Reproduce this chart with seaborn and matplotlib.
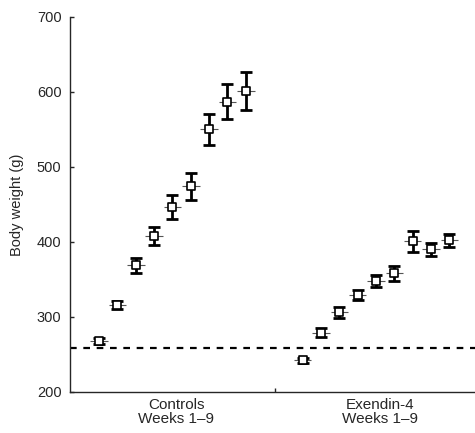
import numpy as np
import pandas as pd
import matplotlib
matplotlib.use("Agg")
import matplotlib.pyplot as plt
import seaborn as sns

weeks = [1, 2, 3, 4, 5, 6, 7, 8, 9]
controls_mean = [268, 316, 369, 408, 446, 474, 550, 587, 601]
controls_err = [4, 5, 10, 12, 16, 18, 21, 23, 25]
exendin_mean = [242, 279, 306, 329, 348, 358, 401, 390, 402]
exendin_err = [3, 6, 7, 7, 8, 10, 14, 9, 9]
group_labels = ["Controls\nWeeks 1\u20139", "Exendin-4\nWeeks 1\u20139"]
baseline = 259

sns.set_theme(style="ticks")
plt.rcParams['font.family'] = ['Liberation Sans', 'DejaVu Sans']

group_offset = 11.1
df = pd.DataFrame({
    "x": list(weeks) + [w + group_offset for w in weeks],
    "weight": controls_mean + exendin_mean,
    "err": controls_err + exendin_err,
    "group": ["Controls"] * 9 + ["Exendin-4"] * 9,
})

fig = plt.figure(figsize=(4.75, 4.33), dpi=100)
ax = fig.add_axes([0.147, 0.095, 0.853, 0.866])

# horizontal gray lines through markers
ax.errorbar(df["x"], df["weight"], xerr=0.48, fmt="none", ecolor="#555555",
            elinewidth=0.8, capsize=0, zorder=2)
# vertical error bars
ax.errorbar(df["x"], df["weight"], yerr=df["err"], fmt="none", ecolor="black",
            elinewidth=2.0, capsize=4.6, capthick=2.0, zorder=3)
sns.scatterplot(data=df, x="x", y="weight", marker="s", s=40, color="white",
                edgecolor="black", linewidth=1.2, ax=ax, zorder=4, legend=False)

ax.axhline(baseline, color="black", linestyle=(0, (3, 3)), linewidth=1.6, zorder=1)

ax.set_ylim(200, 700)
ax.set_xlim(-0.6, 21.5)
ax.set_yticks([200, 300, 400, 500, 600, 700])
ax.set_xticks([10.6])
ax.set_xticklabels([""])
centers = [5, 5 + group_offset]
for c, lab in zip(centers, group_labels):
    ax.text(c + 0.2, 192, lab, ha="center", va="top", fontsize=11,
            transform=ax.transData, linespacing=1.05)
ax.set_ylabel("Body weight (g)", fontsize=10.5, labelpad=9)
ax.set_xlabel("")
ax.tick_params(axis="both", direction="in", length=3, width=1, labelsize=10.5)
ax.tick_params(axis="y", pad=6)
sns.despine(ax=ax)
for s in ["left", "bottom"]:
    ax.spines[s].set_linewidth(1.0)

fig.savefig("out.png", dpi=100)
